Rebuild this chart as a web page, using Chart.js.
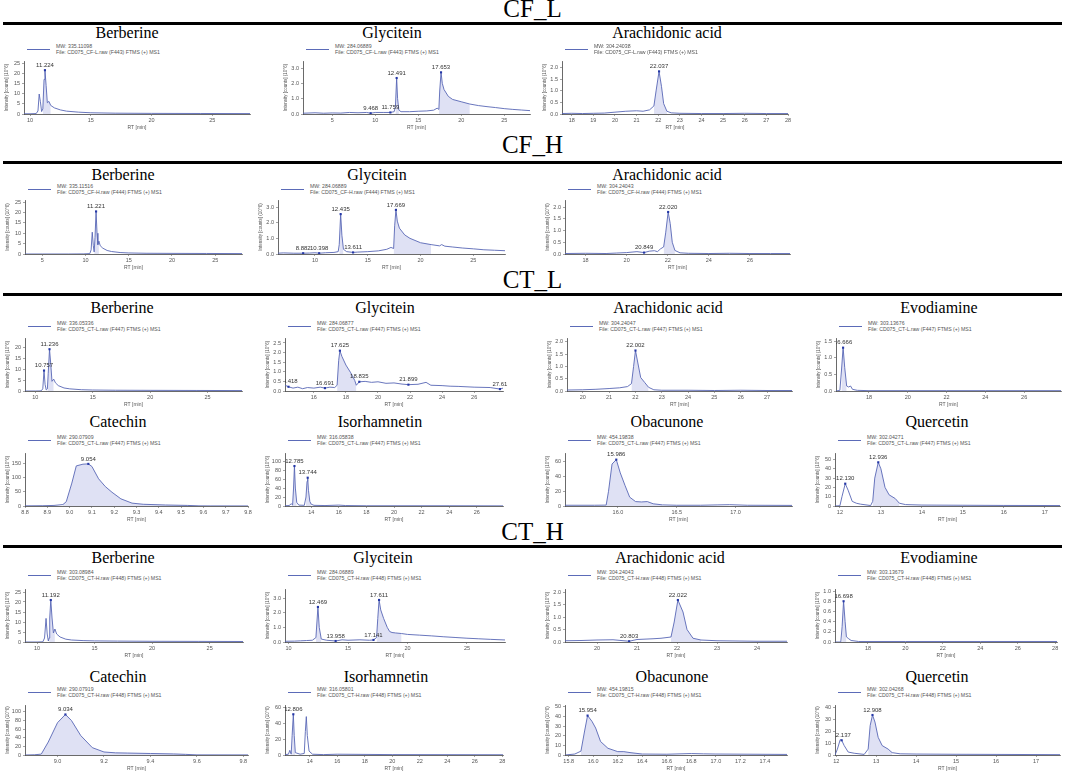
<!DOCTYPE html>
<html><head><meta charset="utf-8">
<script src="https://cdn.jsdelivr.net/npm/chart.js@4.4.1/dist/chart.umd.min.js"></script>
<style>
html,body{margin:0;padding:0;background:#fff;}
#page{position:relative;width:1065px;height:777px;overflow:hidden;font-family:'Liberation Sans',Arial,sans-serif;}
.hd{position:absolute;left:0;width:1065px;text-align:center;font-family:'Liberation Serif','Times New Roman',serif;font-size:25px;line-height:26px;color:#000;}
.rule{position:absolute;left:3px;width:1059px;height:2.5px;background:#000;}
.ttl{position:absolute;font-family:'Liberation Serif','Times New Roman',serif;font-size:16px;line-height:18px;color:#000;white-space:nowrap;transform:translateX(-50%);}
.lg{position:absolute;font-size:5.2px;line-height:6px;color:#555;white-space:nowrap;}
.lgl{position:absolute;height:1.2px;background:#5b6bb8;width:23px;}
canvas{position:absolute;}
</style></head>
<body><div id="page"></div>
<script>
// ---------- text ----------
const rowHeadings = ['CF_L', 'CF_H', 'CT_L', 'CT_H'];
const fileLabels = [
  'File: CD075_CF-L.raw (F443) FTMS (+) MS1',
  'File: CD075_CF-H.raw (F444) FTMS (+) MS1',
  'File: CD075_CT-L.raw (F447) FTMS (+) MS1',
  'File: CD075_CT-H.raw (F448) FTMS (+) MS1'
];
const compoundNames = ['Berberine','Glycitein','Arachidonic acid','Evodiamine','Catechin','Isorhamnetin','Obacunone','Quercetin'];
const yAxisTitle = 'Intensity [counts] (10^6)';
const xAxisTitle = 'RT [min]';

// ---------- CF_L ----------
const cfL_ber = [[9.5,0.1],[10.0,0.1],[10.5,0.2],[10.65,1.5],[10.75,9.8],[10.85,6.0],[10.95,1.2],[11.05,2.5],[11.15,17.0],[11.224,21.5],[11.32,14.0],[11.42,5.5],[11.55,6.2],[11.7,4.2],[12.0,3.0],[12.5,2.0],[13.0,1.4],[14.0,0.9],[15.0,0.6],[17.0,0.4],[20.0,0.3],[24.0,0.25],[28.1,0.2]];
const cfL_ber_pk = [[11.224,21.5,'11.224']];
const cfL_ber_area = [[11.05,11.7]];
const cfL_ber_mw = 'MW: 335.11098';

const cfL_gly = [[1.6,0.05],[3,0.08],[4,0.05],[5,0.07],[6,0.06],[7,0.1],[8,0.08],[9,0.1],[9.468,0.05],[10,0.1],[11,0.1],[11.759,0.1],[12.2,0.15],[12.35,0.5],[12.491,2.35],[12.6,1.0],[12.75,0.25],[13,0.15],[14,0.15],[15,0.18],[16,0.2],[16.8,0.25],[17.2,0.38],[17.4,0.3],[17.5,1.5],[17.653,2.72],[17.8,2.0],[18,1.6],[18.5,1.15],[19,0.95],[20,0.8],[21,0.65],[22,0.55],[23,0.48],[24,0.42],[25,0.35],[26,0.3],[27,0.26],[28,0.22]];
const cfL_gly_pk = [[9.468,0.05,'9.468'],[11.759,0.1,'11.759'],[12.491,2.35,'12.491'],[17.653,2.72,'17.653']];
const cfL_gly_area = [[12.35,12.75],[17.4,21]];
const cfL_gly_mw = 'MW: 284.06889';

const cfL_ara = [[17.55,0.02],[18,0.03],[18.5,0.02],[19,0.03],[19.5,0.04],[20,0.08],[20.5,0.12],[21,0.14],[21.3,0.12],[21.6,0.18],[21.8,0.35],[21.9,1.0],[22.037,1.85],[22.15,1.2],[22.25,0.45],[22.4,0.12],[22.6,0.05],[23,0.03],[24,0.02],[25,0.02],[26,0.03],[27,0.02],[28,0.02]];
const cfL_ara_pk = [[22.037,1.85,'22.037']];
const cfL_ara_area = [[21.8,22.4]];
const cfL_ara_mw = 'MW: 304.24038';

// ---------- CF_H ----------
const cfH_ber = [[3,0],[5,0],[8,0],[9.8,0.05],[10.5,0.2],[10.65,2],[10.78,10.5],[10.9,4],[11.0,1],[11.1,8],[11.221,20.5],[11.33,10],[11.43,4.5],[11.55,6.2],[11.7,4],[12,2.8],[12.5,1.7],[13,1.2],[14,0.7],[15,0.5],[17,0.35],[20,0.3],[24,0.25],[28.1,0.2]];
const cfH_ber_pk = [[11.221,20.5,'11.221']];
const cfH_ber_area = [[11.0,11.55]];
const cfH_ber_mw = 'MW: 335.11516';

const cfH_gly = [[6.5,0.05],[7,0.07],[8,0.05],[8.882,0.05],[9.5,0.06],[10,0.08],[10.398,0.05],[11,0.08],[11.8,0.1],[12.2,0.15],[12.3,0.6],[12.435,2.55],[12.55,1.2],[12.7,0.3],[13,0.15],[13.611,0.1],[14,0.12],[15,0.15],[16,0.2],[16.8,0.3],[17.2,0.42],[17.45,0.35],[17.55,1.8],[17.669,2.82],[17.8,2.1],[18,1.65],[18.5,1.22],[19,1.0],[20,0.72],[21,0.6],[21.8,0.52],[22,0.6],[22.3,0.5],[23,0.45],[24,0.38],[25,0.33],[26,0.27],[27,0.24],[28,0.21]];
const cfH_gly_pk = [[8.882,0.05,'8.882'],[10.398,0.05,'10.398'],[12.435,2.55,'12.435'],[13.611,0.1,'13.611'],[17.669,2.82,'17.669']];
const cfH_gly_area = [[12.3,12.7],[17.45,21]];
const cfH_gly_mw = 'MW: 284.06889';

const cfH_ara = [[17,0.02],[18,0.03],[19,0.02],[19.5,0.04],[20,0.06],[20.5,0.1],[20.849,0.06],[21.1,0.12],[21.35,0.14],[21.5,0.1],[21.65,0.22],[21.8,0.3],[21.9,0.9],[22.02,1.79],[22.12,1.3],[22.22,0.5],[22.35,0.15],[22.6,0.05],[23,0.03],[24,0.02],[25,0.03],[26,0.02],[27,0.02],[27.95,0.02]];
const cfH_ara_pk = [[20.849,0.06,'20.849'],[22.02,1.79,'22.020']];
const cfH_ara_area = [[21.8,22.35]];
const cfH_ara_mw = 'MW: 304.24043';

// ---------- CT_L ----------
const ctL_ber = [[9.1,0],[10,0],[10.5,0.05],[10.65,1],[10.757,9.5],[10.85,3],[10.95,0.5],[11.05,1],[11.12,8],[11.236,19.4],[11.35,12],[11.45,4.5],[11.6,5.5],[11.75,3.8],[12,2.5],[12.5,1.4],[13,1.0],[14,0.6],[15,0.45],[17,0.35],[20,0.3],[24,0.25],[28,0.2]];
const ctL_ber_pk = [[10.757,9.5,'10.757'],[11.236,19.4,'11.236']];
const ctL_ber_area = [[11.05,11.6]];
const ctL_ber_mw = 'MW: 336.05336';

const ctL_gly = [[14.2,0.3],[14.418,0.22],[14.7,0.15],[15,0.2],[15.3,0.12],[15.6,0.18],[16,0.15],[16.4,0.2],[16.691,0.15],[17,0.2],[17.3,0.18],[17.45,0.3],[17.55,1.6],[17.625,2.1],[17.75,1.8],[18,1.35],[18.3,0.95],[18.55,0.55],[18.65,0.3],[18.835,0.48],[19.2,0.5],[19.6,0.45],[20,0.48],[20.5,0.4],[21,0.42],[21.5,0.36],[21.899,0.33],[22.5,0.35],[23,0.45],[23.3,0.3],[24,0.28],[24.5,0.25],[25,0.24],[26,0.2],[27,0.18],[27.61,0.1],[27.8,0.15]];
const ctL_gly_pk = [[14.418,0.22,'14.418'],[16.691,0.15,'16.691'],[17.625,2.1,'17.625'],[18.835,0.48,'18.835'],[21.899,0.33,'21.899'],[27.61,0.1,'27.61']];
const ctL_gly_area = [[17.45,18.65]];
const ctL_gly_mw = 'MW: 284.06877';

const ctL_ara = [[19.4,0.04],[20,0.05],[20.5,0.07],[21,0.1],[21.4,0.13],[21.7,0.18],[21.85,0.3],[21.93,1.0],[22.002,1.65],[22.1,1.1],[22.2,0.55],[22.35,0.35],[22.5,0.15],[22.7,0.05],[23,0.03],[24,0.03],[25,0.02],[26,0.03],[27,0.02],[27.95,0.02]];
const ctL_ara_pk = [[22.002,1.65,'22.002']];
const ctL_ara_area = [[21.85,22.5]];
const ctL_ara_mw = 'MW: 304.24047';

const ctL_evo = [[16.3,0],[16.5,0.02],[16.58,0.6],[16.666,1.3],[16.75,0.7],[16.85,0.15],[16.95,0.12],[17.05,0.15],[17.15,0.05],[17.4,0.02],[18,0.01],[20,0.01],[22,0.01],[24,0.01],[26,0.01],[27.9,0.01]];
const ctL_evo_pk = [[16.666,1.3,'16.666']];
const ctL_evo_area = [[16.58,16.85]];
const ctL_evo_mw = 'MW: 303.13676';

const ctL_cat = [[8.77,0.5],[8.85,1],[8.9,2],[8.94,5],[8.955,15],[8.98,80],[9.0,140],[9.03,146],[9.054,147],[9.07,138],[9.1,95],[9.13,68],[9.16,48],[9.2,25],[9.25,10],[9.3,6],[9.4,3.5],[9.5,2],[9.55,0.5],[9.6,0.3],[9.77,0.2]];
const ctL_cat_pk = [[9.054,147,'9.054']];
const ctL_cat_area = [[8.94,9.55]];
const ctL_cat_mw = 'MW: 290.07909';

const ctL_iso = [[12.1,0.5],[12.4,1],[12.55,5],[12.65,2],[12.72,40],[12.785,89],[12.85,40],[12.95,8],[13.1,2],[13.5,1.5],[13.62,20],[13.7,55],[13.744,63],[13.8,35],[13.9,10],[14.0,4],[14.2,1.5],[15,1],[16,2],[16.5,1],[18,0.5],[20,0.5],[24,0.5],[27.9,0.3]];
const ctL_iso_pk = [[12.785,89,'12.785'],[13.744,63,'13.744']];
const ctL_iso_area = [[12.65,12.95],[13.62,14.0]];
const ctL_iso_mw = 'MW: 316.05838';

const ctL_oba = [[15.55,1],[15.8,1],[15.9,1.2],[15.92,20],[15.95,57],[15.986,63],[16.02,45],[16.06,28],[16.1,12],[16.15,6],[16.2,5.5],[16.25,6],[16.3,3],[16.38,1.5],[16.5,1],[16.7,1],[16.85,1.5],[16.95,1.8],[17.1,1],[17.48,0.8]];
const ctL_oba_pk = [[15.986,63,'15.986']];
const ctL_oba_area = [[15.9,16.38]];
const ctL_oba_mw = 'MW: 454.19838';

const ctL_que = [[11.88,0],[12.0,0.3],[12.05,10],[12.13,24],[12.2,17],[12.3,5],[12.4,3],[12.5,2],[12.75,0.5],[12.8,5],[12.85,30],[12.936,47],[13.0,40],[13.1,20],[13.2,12],[13.35,8],[13.45,3],[13.6,1.5],[14,1],[15,0.8],[16,0.6],[17.37,0.5]];
const ctL_que_pk = [[12.13,24,'12.130'],[12.936,47,'12.936']];
const ctL_que_area = [[12.8,13.45]];
const ctL_que_mw = 'MW: 302.04271';

// ---------- CT_H ----------
const ctH_ber = [[8.95,0],[10,0],[10.5,0.1],[10.65,2],[10.78,11.8],[10.88,4],[10.98,0.5],[11.05,2],[11.1,12],[11.192,21],[11.3,12],[11.42,4.5],[11.55,6.5],[11.7,4],[12,2.5],[12.5,1.4],[13,1.0],[14,0.7],[15,0.55],[17,0.45],[20,0.35],[24,0.3],[27.9,0.25]];
const ctH_ber_pk = [[11.192,21,'11.192']];
const ctH_ber_area = [[11.05,11.55]];
const ctH_ber_mw = 'MW: 303.08984';

const ctH_gly = [[9.7,0.05],[10.5,0.06],[11,0.08],[11.5,0.1],[12,0.12],[12.3,0.3],[12.469,2.4],[12.58,1.0],[12.75,0.2],[13.2,0.12],[13.958,0.07],[14.5,0.15],[15,0.12],[16,0.15],[16.8,0.12],[17.141,0.14],[17.4,0.3],[17.5,1.6],[17.611,2.88],[17.75,2.2],[18,1.6],[18.3,1.0],[18.5,0.72],[18.7,0.65],[19,0.62],[19.5,0.58],[20,0.52],[21,0.47],[22,0.42],[23,0.36],[24,0.31],[25,0.26],[26,0.22],[27,0.18],[28.2,0.14]];
const ctH_gly_pk = [[12.469,2.4,'12.469'],[13.958,0.07,'13.958'],[17.141,0.14,'17.141'],[17.611,2.88,'17.611']];
const ctH_gly_area = [[12.3,12.75],[17.4,19.5]];
const ctH_gly_mw = 'MW: 284.06889';

const ctH_ara = [[19.2,0.05],[19.6,0.06],[20,0.08],[20.4,0.09],[20.803,0.03],[21,0.1],[21.4,0.13],[21.6,0.15],[21.85,0.2],[21.93,0.8],[22.022,1.68],[22.15,1.2],[22.25,0.5],[22.4,0.15],[22.6,0.08],[23,0.05],[23.5,0.04],[24,0.03],[24.75,0.03]];
const ctH_ara_pk = [[20.803,0.03,'20.803'],[22.022,1.68,'22.022']];
const ctH_ara_area = [[21.85,22.6]];
const ctH_ara_mw = 'MW: 304.24043';

const ctH_evo = [[16.24,0],[16.55,0],[16.62,0.3],[16.698,0.8],[16.78,0.4],[16.85,0.1],[16.95,0.07],[17.1,0.03],[17.5,0.01],[20,0.01],[24,0.01],[28.1,0.01]];
const ctH_evo_pk = [[16.698,0.8,'16.698']];
const ctH_evo_area = [[16.62,16.85]];
const ctH_evo_mw = 'MW: 303.13679';

const ctH_cat = [[8.86,0],[8.9,0.5],[8.93,2],[8.96,30],[9.0,75],[9.034,94],[9.06,80],[9.1,45],[9.15,17],[9.2,7],[9.25,5],[9.3,4.5],[9.4,3.5],[9.5,2.5],[9.55,1.5],[9.6,0.3],[9.82,0.2]];
const ctH_cat_pk = [[9.034,94,'9.034']];
const ctH_cat_area = [[8.93,9.55]];
const ctH_cat_mw = 'MW: 290.07919';

const ctH_iso = [[12.2,0.5],[12.45,1],[12.55,6],[12.65,1],[12.72,25],[12.806,52],[12.87,25],[12.95,3],[13.3,1],[13.6,2],[13.68,30],[13.75,49],[13.82,25],[13.95,5],[14.2,1],[15,0.5],[16,1],[20,0.5],[28.05,0.3]];
const ctH_iso_pk = [[12.806,52,'12.806']];
const ctH_iso_area = [[12.72,12.95]];
const ctH_iso_mw = 'MW: 316.05801';

const ctH_oba = [[15.77,0],[15.85,1],[15.9,4],[15.93,25],[15.954,41],[15.99,35],[16.02,28],[16.06,14],[16.12,7],[16.2,3.5],[16.25,3.5],[16.3,2.5],[16.4,1],[16.6,0.8],[16.8,1.5],[16.9,1.2],[17.0,1],[17.58,0.6]];
const ctH_oba_pk = [[15.954,41,'15.954']];
const ctH_oba_area = [[15.9,16.4]];
const ctH_oba_mw = 'MW: 454.19815';

const ctH_que = [[11.97,0],[12.03,5],[12.1,13],[12.137,12.5],[12.2,8],[12.3,2.5],[12.45,1.5],[12.7,0.5],[12.8,5],[12.85,25],[12.908,34],[12.97,28],[13.05,15],[13.15,8],[13.3,5],[13.4,2],[13.6,1],[14,0.8],[15,0.6],[16,0.5],[17.6,0.3]];
const ctH_que_pk = [[12.137,12.5,'12.137'],[12.908,34,'12.908']];
const ctH_que_area = [[12.8,13.4]];
const ctH_que_mw = 'MW: 302.04268';

// ---------- layout (pixels) ----------
const headingY = [12, 148, 283, 535];
const ruleY = [23, 162, 294, 546];
const ROWS = [
  {top:61,  bottom:114, tcy:33,  l1:46,  file:0},
  {top:200, bottom:254, tcy:175, l1:186, file:1},
  {top:338, bottom:391, tcy:308, l1:323, file:2},
  {top:453, bottom:506, tcy:422, l1:437, file:2},
  {top:589, bottom:642, tcy:558, l1:572, file:3},
  {top:705, bottom:755, tcy:677, l1:689, file:3}
];
const P = (row,name,d,pk,ar,mw,L,R,xmin,xmax,xs,xd,ymax,ys,yd,tcx)=>({row,name,d,pk,ar,mw,L,R,xmin,xmax,xs,xd,ymax,ys,yd,tcx});
const PANELS = [
  P(0,0,cfL_ber,cfL_ber_pk,cfL_ber_area,cfL_ber_mw, 24,250, 9.5,28.1,5,0, 26,5,0, 127),
  P(0,1,cfL_gly,cfL_gly_pk,cfL_gly_area,cfL_gly_mw, 303,530, 1.6,28.0,5,0, 3.46,0.5,1, 392),
  P(0,2,cfL_ara,cfL_ara_pk,cfL_ara_area,cfL_ara_mw, 562,788, 17.55,28.0,1,0, 2.3,0.5,1, 667),
  P(1,0,cfH_ber,cfH_ber_pk,cfH_ber_area,cfH_ber_mw, 25,242, 3.0,28.1,5,0, 26,5,0, 123),
  P(1,1,cfH_gly,cfH_gly_pk,cfH_gly_area,cfH_gly_mw, 278,505, 6.5,28.0,5,0, 3.45,0.5,1, 377),
  P(1,2,cfH_ara,cfH_ara_pk,cfH_ara_area,cfH_ara_mw, 565,790, 17.0,27.95,2,0, 2.3,0.5,1, 667),
  P(2,0,ctL_ber,ctL_ber_pk,ctL_ber_area,ctL_ber_mw, 25,242, 9.1,28.0,5,0, 24.6,5,0, 122),
  P(2,1,ctL_gly,ctL_gly_pk,ctL_gly_area,ctL_gly_mw, 285,503, 14.2,27.8,2,0, 2.76,0.5,1, 385),
  P(2,2,ctL_ara,ctL_ara_pk,ctL_ara_area,ctL_ara_mw, 567,792, 19.4,27.95,1,0, 2.16,0.5,1, 668),
  P(2,3,ctL_evo,ctL_evo_pk,ctL_evo_area,ctL_evo_mw, 836,1061, 16.3,27.9,2,0, 1.59,0.5,1, 939),
  P(3,4,ctL_cat,ctL_cat_pk,ctL_cat_area,ctL_cat_mw, 25,248, 8.77,9.77,0.1,1, 185,50,0, 118),
  P(3,5,ctL_iso,ctL_iso_pk,ctL_iso_area,ctL_iso_mw, 285,503, 12.1,27.9,2,0, 118,20,0, 380),
  P(3,6,ctL_oba,ctL_oba_pk,ctL_oba_area,ctL_oba_mw, 565,792, 15.55,17.48,0.5,1, 72,10,0, 667),
  P(3,7,ctL_que,ctL_que_pk,ctL_que_area,ctL_que_mw, 835,1060, 11.88,17.37,1,0, 57,10,0, 937),
  P(4,0,ctH_ber,ctH_ber_pk,ctH_ber_area,ctH_ber_mw, 25,243, 8.95,27.9,5,0, 26.5,5,0, 123),
  P(4,1,ctH_gly,ctH_gly_pk,ctH_gly_area,ctH_gly_mw, 285,505, 9.7,28.2,5,0, 3.63,0.5,1, 383),
  P(4,2,ctH_ara,ctH_ara_pk,ctH_ara_area,ctH_ara_mw, 565,787, 19.2,24.75,1,0, 2.12,0.5,1, 670),
  P(4,3,ctH_evo,ctH_evo_pk,ctH_evo_area,ctH_evo_mw, 835,1057, 16.24,28.1,2,0, 1.04,0.2,1, 939),
  P(5,4,ctH_cat,ctH_cat_pk,ctH_cat_area,ctH_cat_mw, 25,248, 8.86,9.82,0.2,1, 116,20,0, 118),
  P(5,5,ctH_iso,ctH_iso_pk,ctH_iso_area,ctH_iso_mw, 285,503, 12.2,28.05,2,0, 63.8,10,0, 386),
  P(5,6,ctH_oba,ctH_oba_pk,ctH_oba_area,ctH_oba_mw, 565,787, 15.77,17.58,0.2,1, 52,10,0, 672),
  P(5,7,ctH_que,ctH_que_pk,ctH_que_area,ctH_que_mw, 835,1060, 11.97,17.6,1,0, 42.5,10,0, 937)
];

// ---------- build ----------
const page = document.getElementById('page');
function el(cls, css, text){
  const e = document.createElement('div'); e.className = cls;
  Object.assign(e.style, css); if (text!==undefined) e.textContent = text;
  page.appendChild(e); return e;
}
rowHeadings.forEach((h,i)=>{
  el('hd', {top:(headingY[i]-16)+'px'}, h);
  el('rule', {top:(ruleY[i]-1)+'px'});
});

const LINE = '#5866b5', FILL = 'rgba(196,201,235,0.55)', MARK = '#2437a6';
const YW = 20, XH = 17, PT = 10, PR = 14;
const FONT = "'Liberation Sans', Arial, sans-serif";

PANELS.forEach(p=>{
  const r = ROWS[p.row];
  el('ttl', {left:p.tcx+'px', top:(r.tcy-9)+'px'}, compoundNames[p.name]);
  el('lgl', {left:(p.L+3)+'px', top:(r.l1+3)+'px'});
  el('lg', {left:(p.L+32)+'px', top:(r.l1-3)+'px'}, p.mw);
  el('lg', {left:(p.L+32)+'px', top:(r.l1+3)+'px'}, fileLabels[r.file]);

  const cv = document.createElement('canvas');
  const W = p.R - p.L + YW + PR, H = r.bottom - r.top + PT + XH;
  cv.width = W; cv.height = H;
  Object.assign(cv.style, {left:(p.L-YW)+'px', top:(r.top-PT)+'px', width:W+'px', height:H+'px'});
  page.appendChild(cv);

  const pts = p.d.map(a=>({x:a[0], y:a[1]}));
  const datasets = [];
  p.ar.forEach(([a,b])=>{
    datasets.push({data: pts.filter(q=>q.x>=a-1e-9 && q.x<=b+1e-9), fill:'origin', backgroundColor:FILL,
      borderWidth:0, borderColor:'rgba(0,0,0,0)', pointRadius:0, order:3});
  });
  datasets.push({data:pts, borderColor:LINE, borderWidth:0.9, pointRadius:0, fill:false, order:2});
  datasets.push({data:p.pk.map(a=>({x:a[0], y:a[1]})), showLine:false, pointRadius:1.5, pointStyle:'rect',
    pointBackgroundColor:MARK, pointBorderWidth:0, order:1});

  const peakPlugin = {
    id:'peaks',
    afterDatasetsDraw(c){
      const ctx = c.ctx, ca = c.chartArea, xs = c.scales.x, ys = c.scales.y;
      ctx.save();
      ctx.beginPath(); ctx.rect(ca.left, 0, c.width - ca.left, c.height); ctx.clip();
      ctx.font = '6px ' + FONT; ctx.fillStyle = '#333'; ctx.textAlign = 'center'; ctx.textBaseline = 'bottom';
      p.pk.forEach(a=>{ ctx.fillText(a[2], xs.getPixelForValue(a[0]), ys.getPixelForValue(a[1]) - 2); });
      ctx.restore();
    }
  };

  new Chart(cv, {
    type:'line',
    data:{datasets},
    options:{
      responsive:false, animation:false, events:[],
      layout:{padding:{top:PT, right:PR, left:0, bottom:0}},
      plugins:{legend:{display:false}, tooltip:{enabled:false}},
      scales:{
        x:{type:'linear', min:p.xmin, max:p.xmax,
          afterFit(s){ s.height = XH; },
          ticks:{stepSize:p.xs, includeBounds:false, autoSkip:false, maxRotation:0, padding:1.5,
            font:{size:5.5, family:FONT}, color:'#555', callback:v=>Number(v).toFixed(p.xd)},
          grid:{display:true, drawOnChartArea:false, drawTicks:true, tickLength:2, color:'#666', lineWidth:0.6},
          border:{display:true, color:'#444', width:0.8},
          title:{display:true, text:xAxisTitle, font:{size:5, family:FONT}, color:'#555', padding:0}
        },
        y:{type:'linear', min:0, max:p.ymax,
          afterFit(s){ s.width = YW; },
          ticks:{stepSize:p.ys, includeBounds:false, padding:2,
            font:{size:5.5, family:FONT}, color:'#555', callback:v=>Number(v).toFixed(p.yd)},
          grid:{display:true, drawOnChartArea:false, drawTicks:true, tickLength:2, color:'#666', lineWidth:0.6},
          border:{display:true, color:'#444', width:0.8},
          title:{display:true, text:yAxisTitle, font:{size:4.5, family:FONT}, color:'#555', padding:0}
        }
      }
    },
    plugins:[peakPlugin]
  });
});
</script>
</body></html>
